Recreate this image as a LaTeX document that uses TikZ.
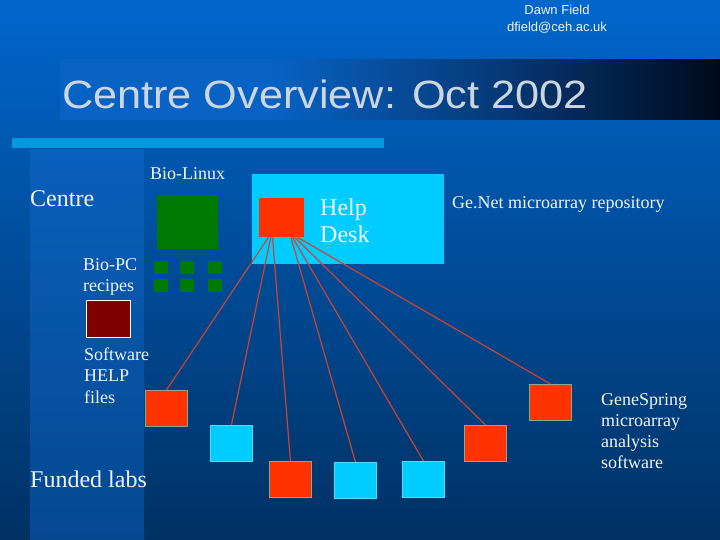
\documentclass[tikz,border=0pt]{standalone}
\usepackage{fontspec}
\setmainfont{Liberation Serif}
\newfontfamily\arialfont{Liberation Sans}
\definecolor{bgtop}{HTML}{0066CC}
\definecolor{bgbot}{HTML}{003163}
\definecolor{bartop}{HTML}{0A5FBC}
\definecolor{barbot}{HTML}{044890}
\definecolor{tb1}{HTML}{0862C4}
\definecolor{tb2}{HTML}{063A78}
\definecolor{tb3}{HTML}{000A1C}
\definecolor{rule}{HTML}{0099DD}
\definecolor{txtc}{HTML}{F2F4F6}
\definecolor{titlec}{HTML}{CCD6E0}
\definecolor{redf}{HTML}{FF3300}
\definecolor{redbd}{HTML}{8FA88C}
\definecolor{cyanf}{HTML}{00CCFF}
\definecolor{cyanbd}{HTML}{4FDDFF}
\definecolor{greenf}{HTML}{007A00}
\definecolor{maroon}{HTML}{800000}
\definecolor{linkc}{HTML}{CC4433}
\pgfdeclarehorizontalshading{titlebar}{100bp}{color(0bp)=(tb1); color(25bp)=(tb1); color(41bp)=(tb1); color(58bp)=(tb2); color(75bp)=(tb3); color(100bp)=(tb3)}
\begin{document}
\begin{tikzpicture}[x=1pt,y=-1pt,
  txt/.style={text=txtc, inner sep=0pt, anchor=base west, font=\fontsize{18}{21.3}\selectfont, align=left},
  bigtxt/.style={text=txtc, inner sep=0pt, anchor=base west, font=\fontsize{24}{28}\selectfont, align=left},
  sqbase/.style={line width=0.9pt, inner sep=0pt, anchor=north west, minimum width=42pt, minimum height=36pt},
  redsq/.style={sqbase, draw=redbd, fill=redf},
  cyansq/.style={sqbase, draw=cyanbd, fill=cyanf},
  greensq/.style={fill=greenf, inner sep=0pt, anchor=north west, minimum width=14pt, minimum height=13pt},
  link/.style={draw=linkc, line width=1.2pt}]
\useasboundingbox (0,0) rectangle (720,540);
% background
\shade[top color=bgtop, bottom color=bgbot] (0,0) rectangle (720,540);
\shade[top color=bartop, bottom color=barbot] (30,150) rectangle (144,540);
% title bar
\shade[shading=titlebar] (60,60) rectangle (720,120);
\fill[rule] (12,138) rectangle (384,148);
% header
\node[text=txtc, inner sep=0pt, font=\arialfont\fontsize{13}{17}\selectfont, align=center, anchor=base] (author) at (557,32) {Dawn Field\\dfield@ceh.ac.uk};
\node[text=titlec, inner sep=0pt, anchor=base west, font=\arialfont\fontsize{39.5}{44}\selectfont] (title) at (62,108.5) {\scalebox{1.095}[1]{Centre Overview: Oct 2002}};
% help desk panel
\node[fill=cyanf, inner sep=0pt, anchor=north west, minimum width=192pt, minimum height=90pt] (panel) at (252,174) {};
\node[fill=redf, inner sep=0pt, anchor=north west, minimum width=45pt, minimum height=39pt] (hd) at (259,198) {};
\node[bigtxt] (hdtxt) at (320,243) {Help\\Desk};
% left column
\node[bigtxt] (centre) at (30,207) {Centre};
\node[txt] (biolinux) at (150,180) {Bio-Linux};
\node[fill=greenf, inner sep=0pt, anchor=north west, minimum width=61pt, minimum height=54pt] (bl) at (157,195) {};
\node[greensq] (g1) at (154,261) {};
\node[greensq] (g2) at (180,261) {};
\node[greensq] (g3) at (208,261) {};
\node[greensq] (g4) at (154,279) {};
\node[greensq] (g5) at (180,279) {};
\node[greensq] (g6) at (208,279) {};
\node[txt, font=\fontsize{18}{21}\selectfont] (biopc) at (83,291.5) {Bio-PC\\recipes};
\node[draw=white, line width=1pt, fill=maroon, inner sep=0pt, anchor=north west, minimum width=44pt, minimum height=37pt] (help) at (86,300) {};
\node[txt, font=\fontsize{18}{21.5}\selectfont] (software) at (84,403) {Software\\HELP\\files};
\node[bigtxt] (funded) at (30,487) {Funded labs};
\node[txt] (genet) at (452,208) {Ge.Net microarray repository};
\node[txt, font=\fontsize{18}{21}\selectfont] (genespring) at (601,468) {GeneSpring\\microarray\\analysis\\software};
% labs
\node[redsq] (l1) at (145,390) {};
\node[cyansq] (l2) at (210,425) {};
\node[redsq] (l3) at (269,461) {};
\node[cyansq] (l4) at (334,462) {};
\node[cyansq] (l5) at (402,461) {};
\node[redsq] (l6) at (464,425) {};
\node[redsq] (l7) at (529,384) {};
% links
\draw[link] (hd.-124) -- (l1.north);
\draw[link] (hd.-119) -- (l2.north);
\draw[link] (hd.-115) -- (l3.north);
\draw[link] (hd.-65) -- (l4.north);
\draw[link] (hd.-61) -- (l5.north);
\draw[link] (hd.-56) -- (l6.north);
\draw[link] (hd.-51) -- (l7.north);
\end{tikzpicture}
\end{document}
